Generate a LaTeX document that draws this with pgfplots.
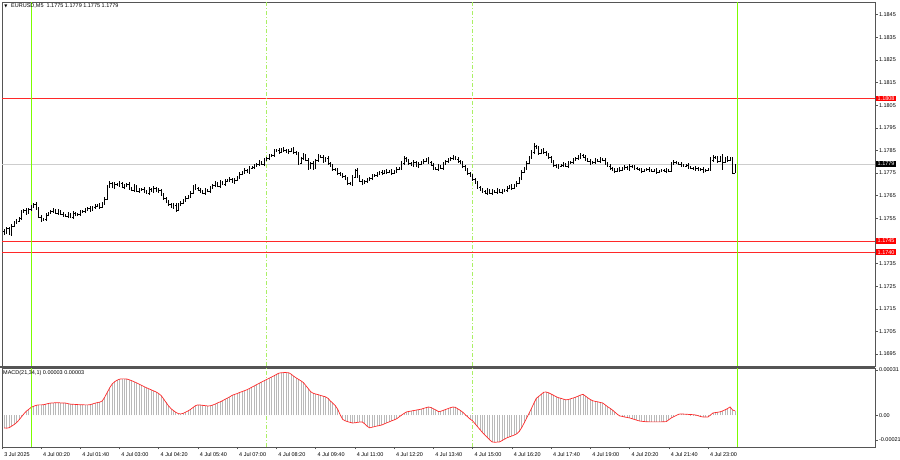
\documentclass[border=0pt]{standalone}
\usepackage{fontspec}
\setmainfont{Liberation Sans}
\newfontfamily\symfont{DejaVu Sans}
\usepackage{pgfplots}
\usepackage{pgfplotstable}
\pgfplotsset{compat=1.18}
\definecolor{framec}{RGB}{85,85,85}
\definecolor{daygreen}{RGB}{124,252,0}
\definecolor{dashgreen}{RGB}{170,240,100}
\definecolor{histgray}{RGB}{185,185,185}
\definecolor{curgray}{RGB}{205,205,205}
\definecolor{mtred}{RGB}{255,40,40}

\pgfdeclareplotmark{otick}{\pgfpathmoveto{\pgfpoint{-0.9pt}{0pt}}\pgfpathlineto{\pgfpoint{0pt}{0pt}}\pgfusepathqstroke}
\pgfdeclareplotmark{ctick}{\pgfpathmoveto{\pgfpoint{0pt}{0pt}}\pgfpathlineto{\pgfpoint{0.9pt}{0pt}}\pgfusepathqstroke}

\pgfplotstableread{
i o h l c
-11 1.17494 1.17503 1.17476 1.17485
-10 1.17485 1.17512 1.17481 1.17507
-9 1.17507 1.17512 1.17476 1.17481
-8 1.17481 1.17525 1.17472 1.17516
-7 1.17516 1.17538 1.17512 1.17534
-6 1.17534 1.17547 1.17525 1.17538
-5 1.17538 1.17556 1.17534 1.17551
-4 1.17551 1.17587 1.17543 1.17578
-3 1.17578 1.17591 1.17574 1.17587
-2 1.17587 1.17596 1.17565 1.17574
-1 1.17574 1.17596 1.17569 1.17591
0 1.17591 1.17609 1.17582 1.17600
1 1.17600 1.17618 1.17596 1.17613
2 1.17613 1.17622 1.17587 1.17596
3 1.17596 1.17600 1.17551 1.17556
4 1.17556 1.17565 1.17534 1.17543
5 1.17543 1.17551 1.17538 1.17547
6 1.17547 1.17574 1.17538 1.17565
7 1.17565 1.17578 1.17560 1.17574
8 1.17574 1.17587 1.17569 1.17582
9 1.17582 1.17596 1.17574 1.17587
10 1.17587 1.17591 1.17569 1.17574
11 1.17574 1.17591 1.17565 1.17582
12 1.17582 1.17587 1.17565 1.17569
13 1.17569 1.17578 1.17556 1.17565
14 1.17565 1.17569 1.17556 1.17560
15 1.17560 1.17578 1.17551 1.17569
16 1.17569 1.17574 1.17551 1.17556
17 1.17556 1.17582 1.17547 1.17574
18 1.17574 1.17578 1.17560 1.17565
19 1.17565 1.17574 1.17560 1.17569
20 1.17569 1.17587 1.17560 1.17578
21 1.17578 1.17587 1.17574 1.17582
22 1.17582 1.17596 1.17574 1.17587
23 1.17587 1.17600 1.17582 1.17596
24 1.17596 1.17604 1.17578 1.17587
25 1.17587 1.17604 1.17582 1.17600
26 1.17600 1.17613 1.17591 1.17604
27 1.17604 1.17613 1.17600 1.17609
28 1.17609 1.17618 1.17591 1.17600
29 1.17600 1.17622 1.17596 1.17618
30 1.17618 1.17644 1.17609 1.17635
31 1.17635 1.17697 1.17631 1.17693
32 1.17693 1.17715 1.17684 1.17706
33 1.17706 1.17711 1.17684 1.17688
34 1.17688 1.17711 1.17680 1.17702
35 1.17702 1.17706 1.17693 1.17697
36 1.17697 1.17715 1.17688 1.17706
37 1.17706 1.17711 1.17684 1.17688
38 1.17688 1.17702 1.17680 1.17693
39 1.17693 1.17706 1.17688 1.17702
40 1.17702 1.17711 1.17675 1.17684
41 1.17684 1.17688 1.17671 1.17675
42 1.17675 1.17702 1.17666 1.17693
43 1.17693 1.17697 1.17666 1.17671
44 1.17671 1.17684 1.17662 1.17675
45 1.17675 1.17684 1.17671 1.17680
46 1.17680 1.17688 1.17662 1.17671
47 1.17671 1.17675 1.17657 1.17662
48 1.17662 1.17688 1.17653 1.17680
49 1.17680 1.17684 1.17666 1.17671
50 1.17671 1.17693 1.17662 1.17684
51 1.17684 1.17688 1.17666 1.17671
52 1.17671 1.17684 1.17662 1.17675
53 1.17675 1.17680 1.17649 1.17653
54 1.17653 1.17662 1.17631 1.17640
55 1.17640 1.17644 1.17618 1.17622
56 1.17622 1.17631 1.17604 1.17613
57 1.17613 1.17618 1.17596 1.17600
58 1.17600 1.17618 1.17591 1.17609
59 1.17609 1.17618 1.17578 1.17587
60 1.17587 1.17618 1.17582 1.17613
61 1.17613 1.17627 1.17604 1.17618
62 1.17618 1.17635 1.17613 1.17631
63 1.17631 1.17649 1.17622 1.17640
64 1.17640 1.17653 1.17635 1.17649
65 1.17649 1.17671 1.17640 1.17662
66 1.17662 1.17697 1.17657 1.17693
67 1.17693 1.17702 1.17675 1.17684
68 1.17684 1.17688 1.17671 1.17675
69 1.17675 1.17684 1.17662 1.17671
70 1.17671 1.17675 1.17657 1.17662
71 1.17662 1.17684 1.17653 1.17675
72 1.17675 1.17680 1.17666 1.17671
73 1.17671 1.17693 1.17662 1.17684
74 1.17684 1.17702 1.17680 1.17697
75 1.17697 1.17715 1.17688 1.17706
76 1.17706 1.17711 1.17688 1.17693
77 1.17693 1.17719 1.17684 1.17711
78 1.17711 1.17715 1.17697 1.17702
79 1.17702 1.17724 1.17693 1.17715
80 1.17715 1.17724 1.17711 1.17719
81 1.17719 1.17733 1.17711 1.17724
82 1.17724 1.17728 1.17706 1.17711
83 1.17711 1.17728 1.17702 1.17719
84 1.17719 1.17737 1.17715 1.17733
85 1.17733 1.17755 1.17724 1.17746
86 1.17746 1.17759 1.17741 1.17755
87 1.17755 1.17772 1.17746 1.17764
88 1.17764 1.17768 1.17750 1.17755
89 1.17755 1.17781 1.17746 1.17772
90 1.17772 1.17781 1.17768 1.17777
91 1.17777 1.17790 1.17768 1.17781
92 1.17781 1.17795 1.17777 1.17790
93 1.17790 1.17808 1.17781 1.17799
94 1.17799 1.17803 1.17786 1.17790
95 1.17790 1.17817 1.17781 1.17808
96 1.17808 1.17821 1.17803 1.17817
97 1.17817 1.17834 1.17808 1.17825
98 1.17825 1.17834 1.17821 1.17830
99 1.17830 1.17856 1.17821 1.17848
100 1.17848 1.17856 1.17843 1.17852
101 1.17852 1.17861 1.17834 1.17843
102 1.17843 1.17861 1.17839 1.17856
103 1.17856 1.17865 1.17843 1.17852
104 1.17852 1.17856 1.17839 1.17843
105 1.17843 1.17856 1.17834 1.17848
106 1.17848 1.17861 1.17843 1.17856
107 1.17856 1.17865 1.17834 1.17843
108 1.17843 1.17848 1.17830 1.17834
109 1.17834 1.17843 1.17786 1.17795
110 1.17795 1.17821 1.17790 1.17817
111 1.17817 1.17839 1.17808 1.17830
112 1.17830 1.17834 1.17803 1.17808
113 1.17808 1.17817 1.17764 1.17772
114 1.17772 1.17799 1.17768 1.17795
115 1.17795 1.17803 1.17764 1.17772
116 1.17772 1.17812 1.17768 1.17808
117 1.17808 1.17834 1.17799 1.17825
118 1.17825 1.17830 1.17817 1.17821
119 1.17821 1.17830 1.17795 1.17803
120 1.17803 1.17821 1.17799 1.17817
121 1.17817 1.17825 1.17786 1.17795
122 1.17795 1.17799 1.17777 1.17781
123 1.17781 1.17790 1.17759 1.17768
124 1.17768 1.17772 1.17759 1.17764
125 1.17764 1.17772 1.17741 1.17750
126 1.17750 1.17755 1.17737 1.17741
127 1.17741 1.17750 1.17728 1.17737
128 1.17737 1.17741 1.17719 1.17724
129 1.17724 1.17733 1.17697 1.17706
130 1.17706 1.17711 1.17697 1.17702
131 1.17702 1.17741 1.17693 1.17733
132 1.17733 1.17768 1.17728 1.17764
133 1.17764 1.17772 1.17728 1.17737
134 1.17737 1.17741 1.17711 1.17715
135 1.17715 1.17724 1.17697 1.17706
136 1.17706 1.17719 1.17702 1.17715
137 1.17715 1.17728 1.17706 1.17719
138 1.17719 1.17733 1.17715 1.17728
139 1.17728 1.17746 1.17719 1.17737
140 1.17737 1.17746 1.17733 1.17741
141 1.17741 1.17755 1.17733 1.17746
142 1.17746 1.17759 1.17741 1.17755
143 1.17755 1.17764 1.17741 1.17750
144 1.17750 1.17764 1.17746 1.17759
145 1.17759 1.17768 1.17746 1.17755
146 1.17755 1.17764 1.17750 1.17759
147 1.17759 1.17768 1.17741 1.17750
148 1.17750 1.17764 1.17746 1.17759
149 1.17759 1.17777 1.17750 1.17768
150 1.17768 1.17777 1.17764 1.17772
151 1.17772 1.17803 1.17764 1.17795
152 1.17795 1.17825 1.17786 1.17817
153 1.17817 1.17821 1.17799 1.17803
154 1.17803 1.17812 1.17786 1.17795
155 1.17795 1.17799 1.17781 1.17786
156 1.17786 1.17808 1.17777 1.17799
157 1.17799 1.17803 1.17777 1.17781
158 1.17781 1.17799 1.17772 1.17790
159 1.17790 1.17803 1.17786 1.17799
160 1.17799 1.17812 1.17790 1.17803
161 1.17803 1.17817 1.17799 1.17812
162 1.17812 1.17821 1.17790 1.17799
163 1.17799 1.17803 1.17781 1.17786
164 1.17786 1.17795 1.17764 1.17772
165 1.17772 1.17777 1.17764 1.17768
166 1.17768 1.17790 1.17759 1.17781
167 1.17781 1.17786 1.17768 1.17772
168 1.17772 1.17799 1.17764 1.17790
169 1.17790 1.17808 1.17786 1.17803
170 1.17803 1.17817 1.17795 1.17808
171 1.17808 1.17821 1.17803 1.17817
172 1.17817 1.17830 1.17808 1.17821
173 1.17821 1.17825 1.17808 1.17812
174 1.17812 1.17821 1.17795 1.17803
175 1.17803 1.17808 1.17790 1.17795
176 1.17795 1.17803 1.17772 1.17781
177 1.17781 1.17786 1.17759 1.17764
178 1.17764 1.17772 1.17741 1.17750
179 1.17750 1.17755 1.17733 1.17737
180 1.17737 1.17746 1.17715 1.17724
181 1.17724 1.17728 1.17702 1.17706
182 1.17706 1.17715 1.17680 1.17688
183 1.17688 1.17693 1.17671 1.17675
184 1.17675 1.17684 1.17662 1.17671
185 1.17671 1.17675 1.17657 1.17662
186 1.17662 1.17684 1.17653 1.17675
187 1.17675 1.17680 1.17657 1.17662
188 1.17662 1.17680 1.17653 1.17671
189 1.17671 1.17675 1.17662 1.17666
190 1.17666 1.17684 1.17657 1.17675
191 1.17675 1.17680 1.17662 1.17666
192 1.17666 1.17680 1.17657 1.17671
193 1.17671 1.17680 1.17666 1.17675
194 1.17675 1.17693 1.17666 1.17684
195 1.17684 1.17697 1.17680 1.17693
196 1.17693 1.17702 1.17675 1.17684
197 1.17684 1.17702 1.17680 1.17697
198 1.17697 1.17715 1.17688 1.17706
199 1.17706 1.17733 1.17702 1.17728
200 1.17728 1.17764 1.17719 1.17755
201 1.17755 1.17777 1.17750 1.17772
202 1.17772 1.17803 1.17764 1.17795
203 1.17795 1.17825 1.17790 1.17821
204 1.17821 1.17852 1.17812 1.17843
205 1.17843 1.17883 1.17834 1.17870
206 1.17870 1.17874 1.17856 1.17861
207 1.17861 1.17870 1.17830 1.17839
208 1.17839 1.17856 1.17834 1.17852
209 1.17852 1.17861 1.17834 1.17843
210 1.17843 1.17848 1.17825 1.17830
211 1.17830 1.17839 1.17812 1.17821
212 1.17821 1.17825 1.17795 1.17799
213 1.17799 1.17808 1.17777 1.17786
214 1.17786 1.17790 1.17772 1.17777
215 1.17777 1.17790 1.17768 1.17781
216 1.17781 1.17790 1.17777 1.17786
217 1.17786 1.17799 1.17777 1.17790
218 1.17790 1.17795 1.17777 1.17781
219 1.17781 1.17803 1.17772 1.17795
220 1.17795 1.17803 1.17790 1.17799
221 1.17799 1.17817 1.17790 1.17808
222 1.17808 1.17821 1.17803 1.17817
223 1.17817 1.17830 1.17808 1.17821
224 1.17821 1.17839 1.17812 1.17830
225 1.17830 1.17834 1.17817 1.17821
226 1.17821 1.17830 1.17803 1.17812
227 1.17812 1.17817 1.17799 1.17803
228 1.17803 1.17812 1.17786 1.17795
229 1.17795 1.17803 1.17790 1.17799
230 1.17799 1.17817 1.17790 1.17808
231 1.17808 1.17812 1.17799 1.17803
232 1.17803 1.17821 1.17795 1.17812
233 1.17812 1.17817 1.17803 1.17808
234 1.17808 1.17817 1.17786 1.17795
235 1.17795 1.17799 1.17777 1.17781
236 1.17781 1.17790 1.17764 1.17772
237 1.17772 1.17777 1.17759 1.17764
238 1.17764 1.17772 1.17750 1.17759
239 1.17759 1.17772 1.17755 1.17768
240 1.17768 1.17777 1.17755 1.17764
241 1.17764 1.17777 1.17759 1.17772
242 1.17772 1.17786 1.17764 1.17777
243 1.17777 1.17781 1.17764 1.17768
244 1.17768 1.17790 1.17759 1.17781
245 1.17781 1.17786 1.17772 1.17777
246 1.17777 1.17786 1.17764 1.17772
247 1.17772 1.17777 1.17764 1.17768
248 1.17768 1.17772 1.17759 1.17764
249 1.17764 1.17772 1.17750 1.17759
250 1.17759 1.17768 1.17755 1.17764
251 1.17764 1.17772 1.17759 1.17768
252 1.17768 1.17777 1.17755 1.17764
253 1.17764 1.17768 1.17755 1.17759
254 1.17759 1.17768 1.17755 1.17764
255 1.17764 1.17772 1.17746 1.17755
256 1.17755 1.17764 1.17750 1.17759
257 1.17759 1.17768 1.17755 1.17764
258 1.17764 1.17768 1.17755 1.17759
259 1.17759 1.17772 1.17750 1.17764
260 1.17764 1.17768 1.17755 1.17759
261 1.17759 1.17799 1.17755 1.17795
262 1.17795 1.17808 1.17786 1.17799
263 1.17799 1.17803 1.17790 1.17795
264 1.17795 1.17799 1.17786 1.17790
265 1.17790 1.17799 1.17777 1.17786
266 1.17786 1.17790 1.17777 1.17781
267 1.17781 1.17790 1.17777 1.17786
268 1.17786 1.17795 1.17768 1.17777
269 1.17777 1.17781 1.17768 1.17772
270 1.17772 1.17777 1.17764 1.17768
271 1.17768 1.17781 1.17759 1.17772
272 1.17772 1.17777 1.17759 1.17764
273 1.17764 1.17772 1.17759 1.17768
274 1.17768 1.17777 1.17750 1.17759
275 1.17759 1.17768 1.17755 1.17764
276 1.17764 1.17772 1.17759 1.17768
277 1.17768 1.17821 1.17759 1.17808
278 1.17808 1.17830 1.17799 1.17821
279 1.17821 1.17825 1.17812 1.17817
280 1.17817 1.17825 1.17795 1.17803
281 1.17803 1.17825 1.17799 1.17821
282 1.17821 1.17834 1.17764 1.17799
283 1.17799 1.17821 1.17795 1.17817
284 1.17817 1.17825 1.17799 1.17808
285 1.17808 1.17821 1.17803 1.17817
286 1.17817 1.17821 1.17746 1.17750
287 1.17750 1.17790 1.17750 1.17790
}\bars

\pgfplotstableread{
i m
-11 -8.2e-5
-10 -8.3e-5
-9 -8.0e-5
-8 -7.0e-5
-7 -6.0e-5
-6 -4.7e-5
-5 -3.0e-5
-4 -1.0e-5
-3 1.0e-5
-2 2.8e-5
-1 4.0e-5
0 5.3e-5
1 6.0e-5
2 6.6e-5
3 6.9e-5
4 6.9e-5
5 7.0e-5
6 7.4e-5
7 7.8e-5
8 8.1e-5
9 8.2e-5
10 8.3e-5
11 8.3e-5
12 8.2e-5
13 8.2e-5
14 8.1e-5
15 7.7e-5
16 7.4e-5
17 7.3e-5
18 7.2e-5
19 7.1e-5
20 7.0e-5
21 7.0e-5
22 6.9e-5
23 6.9e-5
24 7.0e-5
25 7.5e-5
26 8.0e-5
27 8.4e-5
28 8.7e-5
29 9.5e-5
30 12.0e-5
31 15.0e-5
32 18.0e-5
33 20.5e-5
34 22.0e-5
35 23.0e-5
36 23.7e-5
37 23.9e-5
38 23.9e-5
39 23.8e-5
40 23.3e-5
41 22.7e-5
42 22.0e-5
43 21.3e-5
44 20.5e-5
45 19.7e-5
46 18.9e-5
47 18.1e-5
48 17.4e-5
49 16.7e-5
50 16.0e-5
51 15.3e-5
52 14.3e-5
53 13.0e-5
54 10.8e-5
55 8.5e-5
56 6.3e-5
57 4.5e-5
58 3.2e-5
59 2.0e-5
60 1.2e-5
61 1.0e-5
62 1.4e-5
63 2.2e-5
64 3.0e-5
65 4.0e-5
66 5.2e-5
67 6.4e-5
68 6.9e-5
69 6.8e-5
70 6.6e-5
71 6.4e-5
72 6.2e-5
73 6.3e-5
74 6.8e-5
75 7.4e-5
76 8.2e-5
77 8.8e-5
78 9.6e-5
79 10.5e-5
80 11.3e-5
81 12.2e-5
82 13.2e-5
83 13.8e-5
84 14.3e-5
85 15.0e-5
86 15.6e-5
87 16.2e-5
88 16.8e-5
89 17.6e-5
90 18.5e-5
91 19.3e-5
92 20.2e-5
93 21.0e-5
94 21.9e-5
95 22.7e-5
96 23.5e-5
97 24.3e-5
98 25.1e-5
99 25.9e-5
100 26.8e-5
101 27.6e-5
102 27.9e-5
103 28.0e-5
104 28.0e-5
105 27.9e-5
106 27.0e-5
107 25.7e-5
108 24.6e-5
109 23.6e-5
110 22.6e-5
111 21.5e-5
112 19.5e-5
113 17.5e-5
114 15.5e-5
115 14.5e-5
116 14.0e-5
117 13.6e-5
118 13.1e-5
119 12.6e-5
120 12.2e-5
121 11.2e-5
122 9.5e-5
123 8.0e-5
124 6.5e-5
125 4.0e-5
126 0.5e-5
127 -2.5e-5
128 -3.5e-5
129 -4.0e-5
130 -4.5e-5
131 -4.9e-5
132 -4.8e-5
133 -4.5e-5
134 -4.3e-5
135 -4.2e-5
136 -5.5e-5
137 -7.0e-5
138 -8.1e-5
139 -7.7e-5
140 -7.3e-5
141 -6.9e-5
142 -6.6e-5
143 -6.2e-5
144 -5.5e-5
145 -4.8e-5
146 -4.2e-5
147 -3.5e-5
148 -2.9e-5
149 -2.2e-5
150 -1.0e-5
151 0.2e-5
152 1.3e-5
153 2.3e-5
154 2.6e-5
155 2.9e-5
156 3.2e-5
157 3.5e-5
158 3.8e-5
159 4.1e-5
160 4.6e-5
161 5.1e-5
162 5.5e-5
163 5.2e-5
164 4.4e-5
165 3.6e-5
166 2.6e-5
167 2.7e-5
168 3.3e-5
169 3.9e-5
170 4.5e-5
171 5.1e-5
172 5.5e-5
173 5.3e-5
174 4.3e-5
175 3.3e-5
176 2.1e-5
177 0.5e-5
178 -0.9e-5
179 -2.4e-5
180 -3.5e-5
181 -5.4e-5
182 -7.3e-5
183 -9.2e-5
184 -11.1e-5
185 -12.8e-5
186 -14.4e-5
187 -16.0e-5
188 -17.3e-5
189 -17.5e-5
190 -17.4e-5
191 -17.3e-5
192 -16.4e-5
193 -15.5e-5
194 -14.6e-5
195 -14.0e-5
196 -13.4e-5
197 -12.8e-5
198 -12.0e-5
199 -10.5e-5
200 -8.0e-5
201 -5.0e-5
202 -1.8e-5
203 1.3e-5
204 4.6e-5
205 8.0e-5
206 11.2e-5
207 12.5e-5
208 13.8e-5
209 15.2e-5
210 15.3e-5
211 14.8e-5
212 14.0e-5
213 13.2e-5
214 12.3e-5
215 11.6e-5
216 11.2e-5
217 10.7e-5
218 10.2e-5
219 10.4e-5
220 10.9e-5
221 11.4e-5
222 11.9e-5
223 12.6e-5
224 13.3e-5
225 13.8e-5
226 12.7e-5
227 11.5e-5
228 10.4e-5
229 9.6e-5
230 9.2e-5
231 8.9e-5
232 8.5e-5
233 8.2e-5
234 7.0e-5
235 5.8e-5
236 4.7e-5
237 3.6e-5
238 2.2e-5
239 0.8e-5
240 -0.3e-5
241 -0.6e-5
242 -1.0e-5
243 -1.3e-5
244 -1.6e-5
245 -2.1e-5
246 -2.6e-5
247 -3.1e-5
248 -3.6e-5
249 -3.8e-5
250 -4.0e-5
251 -4.1e-5
252 -4.2e-5
253 -4.2e-5
254 -4.2e-5
255 -4.2e-5
256 -4.2e-5
257 -4.2e-5
258 -4.1e-5
259 -4.0e-5
260 -2.8e-5
261 -1.6e-5
262 -0.8e-5
263 0.0
264 0.8e-5
265 1.0e-5
266 0.9e-5
267 0.8e-5
268 0.7e-5
269 0.6e-5
270 0.5e-5
271 0.3e-5
272 -0.2e-5
273 -0.7e-5
274 -1.0e-5
275 -1.0e-5
276 -1.0e-5
277 0.3e-5
278 1.6e-5
279 1.9e-5
280 2.1e-5
281 2.4e-5
282 3.0e-5
283 3.7e-5
284 4.5e-5
285 5.6e-5
286 3.6e-5
287 3.0e-5
}\macd

\newcommand{\lblfont}{\fontsize{5.5}{6}\selectfont}

\begin{document}
\begin{tikzpicture}
\useasboundingbox (0pt,0pt) rectangle (900pt,460pt);
\begin{axis}[
  at={(2pt,94pt)}, anchor=south west, scale only axis,
  width=873pt, height=364pt,
  xmin=-11.9, xmax=344.1, ymin=1.16897, ymax=1.18506,
  axis line style={framec, line width=0.8pt},
  xtick=\empty,
  scaled y ticks=false,
  ytick={1.1695,1.1705,1.1715,1.1725,1.1735,1.1745,1.1755,1.1765,1.1775,1.1785,1.1795,1.1805,1.1815,1.1825,1.1835,1.1845},
  yticklabels={1.1695,1.1705,1.1715,1.1725,1.1735,1.1745,1.1755,1.1765,1.1775,1.1785,1.1795,1.1805,1.1815,1.1825,1.1835,1.1845},
  ytick pos=right, yticklabel pos=right, tick align=outside,
  major tick length=2.5pt,
  tick style={framec, line width=0.5pt},
  yticklabel style={font=\lblfont, anchor=west, xshift=-2pt},
]
\addplot[draw=curgray, line width=0.8pt, mark=none] coordinates {(-11.9,1.1779) (344.1,1.1779)};
\addplot[draw=mtred, line width=0.6pt, mark=none] coordinates {(-11.9,1.1808) (344.1,1.1808)};
\addplot[draw=mtred, line width=0.6pt, mark=none] coordinates {(-11.9,1.1745) (344.1,1.1745)};
\addplot[draw=mtred, line width=0.6pt, mark=none] coordinates {(-11.9,1.1740) (344.1,1.1740)};
\addplot[draw=dashgreen, line width=1pt, mark=none, dash pattern=on 4pt off 2pt on 1pt off 2pt] coordinates {(96,1.16897) (96,1.18506)};
\addplot[draw=dashgreen, line width=1pt, mark=none, dash pattern=on 4pt off 2pt on 1pt off 2pt] coordinates {(180,1.16897) (180,1.18506)};
\addplot[color=daygreen, solid, line width=1.3pt, mark=none] coordinates {(0,1.16897) (0,1.18506)};
\addplot[color=daygreen, solid, line width=1.3pt, mark=none] coordinates {(288,1.16897) (288,1.18506)};
\addplot[draw=none, mark=none,
  error bars/.cd, y dir=plus, y explicit, error mark=none,
  error bar style={draw=black, line width=0.7pt, solid}]
  table[x=i, y=l, y error plus expr={\thisrow{h}-\thisrow{l}}] {\bars};
\addplot[draw=none, mark=otick, mark options={draw=black, line width=0.55pt}] table[x=i, y=o] {\bars};
\addplot[draw=none, mark=ctick, mark options={draw=black, line width=0.55pt}] table[x=i, y=c] {\bars};
\coordinate (R1) at (axis cs:344.1,1.1808);
\coordinate (R2) at (axis cs:344.1,1.1745);
\coordinate (R3) at (axis cs:344.1,1.1740);
\coordinate (CP) at (axis cs:344.1,1.1779);
\end{axis}

\begin{axis}[
  at={(2pt,13pt)}, anchor=south west, scale only axis,
  width=873pt, height=79pt,
  xmin=-11.9, xmax=344.1, ymin=-2.06e-4, ymax=3.10e-4,
  axis line style={framec, line width=0.8pt},
  xtick={-11.8,4,20,36,52,68,84,100,116,132,148,164,180,196,212,228,244,260,276},
  xticklabels={3 Jul 2025,4 Jul 00:20,4 Jul 01:40,4 Jul 03:00,4 Jul 04:20,4 Jul 05:40,4 Jul 07:00,4 Jul 08:20,4 Jul 09:40,4 Jul 11:00,4 Jul 12:20,4 Jul 13:40,4 Jul 15:00,4 Jul 16:20,4 Jul 17:40,4 Jul 19:00,4 Jul 20:20,4 Jul 21:40,4 Jul 23:00},
  xtick pos=bottom, xticklabel pos=bottom,
  xticklabel style={font=\lblfont, anchor=north west, xshift=-1.5pt, yshift=1pt},
  scaled y ticks=false,
  ytick={-1.60e-4,0,2.97e-4},
  yticklabels={-0.00021,0.00,0.00031},
  ytick pos=right, yticklabel pos=right, tick align=outside,
  major tick length=2.5pt,
  tick style={framec, line width=0.5pt},
  yticklabel style={font=\lblfont, anchor=west, xshift=-2pt},
]
\addplot[draw=dashgreen, line width=1pt, mark=none, dash pattern=on 4pt off 2pt on 1pt off 2pt] coordinates {(96,-2.06e-4) (96,3.10e-4)};
\addplot[draw=dashgreen, line width=1pt, mark=none, dash pattern=on 4pt off 2pt on 1pt off 2pt] coordinates {(180,-2.06e-4) (180,3.10e-4)};
\addplot[ycomb, draw=histgray, line width=0.8pt, mark=none] table[x=i, y=m] {\macd};
\addplot[draw=mtred, line width=0.7pt, mark=none] table[x=i, y=m] {\macd};
\addplot[color=daygreen, solid, line width=1.3pt, mark=none] coordinates {(0,-2.06e-4) (0,3.10e-4)};
\addplot[color=daygreen, solid, line width=1.3pt, mark=none] coordinates {(288,-2.06e-4) (288,3.10e-4)};
\end{axis}

\draw[framec, line width=1.2pt] (0pt,93pt) -- (875pt,93pt);

\path (R1) ++(1pt,0pt) node[anchor=west, fill=red, text=white, font=\lblfont, inner xsep=1.5pt, inner ysep=0.8pt] {1.1808};
\path (R2) ++(1pt,0pt) node[anchor=west, fill=red, text=white, font=\lblfont, inner xsep=1.5pt, inner ysep=0.8pt] {1.1745};
\path (R3) ++(1pt,0pt) node[anchor=west, fill=red, text=white, font=\lblfont, inner xsep=1.5pt, inner ysep=0.8pt] {1.1740};
\path (CP) ++(1pt,0pt) node[anchor=west, fill=black, text=white, font=\lblfont, inner xsep=1.5pt, inner ysep=0.8pt] {1.1779};

\node[anchor=center, font=\symfont\fontsize{4}{4}\selectfont] at (6pt,454pt) {▼};
\node[anchor=west, font=\lblfont, inner sep=0pt] at (11pt,454pt) {EURUSD,M5\ \ 1.1775 1.1779 1.1775 1.1779};
\node[anchor=west, font=\lblfont, inner sep=0pt] at (3pt,87pt) {MACD(21,34,1) 0.00003 0.00003};
\end{tikzpicture}
\end{document}
